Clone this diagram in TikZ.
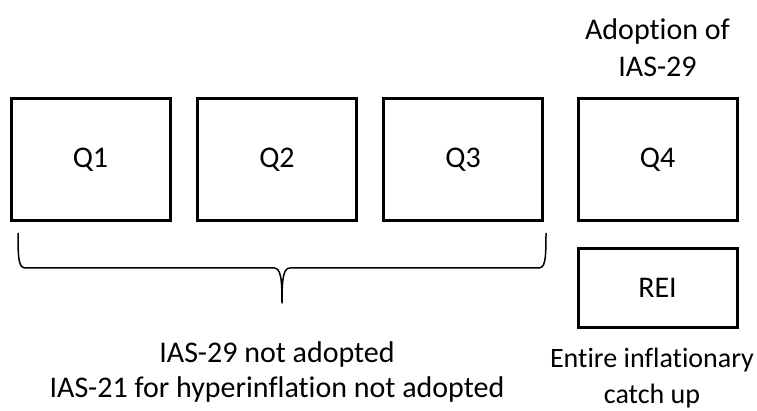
\documentclass[tikz,border=0pt]{standalone}
\usepackage{fontspec}
\setmainfont{Carlito}[Ligatures=NoCommon]
\begin{document}
\begin{tikzpicture}[x=1pt,y=-1pt,
  qbox/.style={draw=black, line width=3pt, minimum width=159pt, minimum height=122pt, inner sep=0pt, font=\fontsize{30}{34}\selectfont},
  rbox/.style={draw=black, line width=3pt, minimum width=159pt, minimum height=79pt, inner sep=0pt, font=\fontsize{30}{34}\selectfont},
  lbl/.style={align=center, font=\fontsize{30}{35}\selectfont, inner sep=0pt},
  bracepath/.style={line width=1.5pt, line join=round}]
\useasboundingbox (0,0) rectangle (757,411);
\node[qbox] (q1) at (90.5,160) {Q1};
\node[qbox] (q2) at (277,160) {Q2};
\node[qbox] (q3) at (463,160) {Q3};
\node[qbox] (q4) at (657.5,160) {Q4};
\node[rbox] (rei) at (657.5,288) {REI};
\node[lbl, font=\fontsize{30}{37}\selectfont] (adopt) at (657.5,48) {Adoption of\\IAS-29};
\node[lbl] (notad) at (277,372) {IAS-29 not adopted\\IAS-21 for hyperinflation not adopted};
\node[lbl, font=\fontsize{28}{36}\selectfont] (catch) at (652,378) {Entire inflationary\\catch up};
\coordinate (bl) at (18,233);
\coordinate (br) at (546,233);
\coordinate (bt) at (282,303);
\draw[bracepath] (bl) .. controls (18,262) and (19,268) .. (26,268)
  -- (274,268) .. controls (281,268) and (282,280) .. (bt)
  .. controls (282,280) and (283,268) .. (290,268)
  -- (538,268) .. controls (545,268) and (546,262) .. (br);
\end{tikzpicture}
\end{document}
